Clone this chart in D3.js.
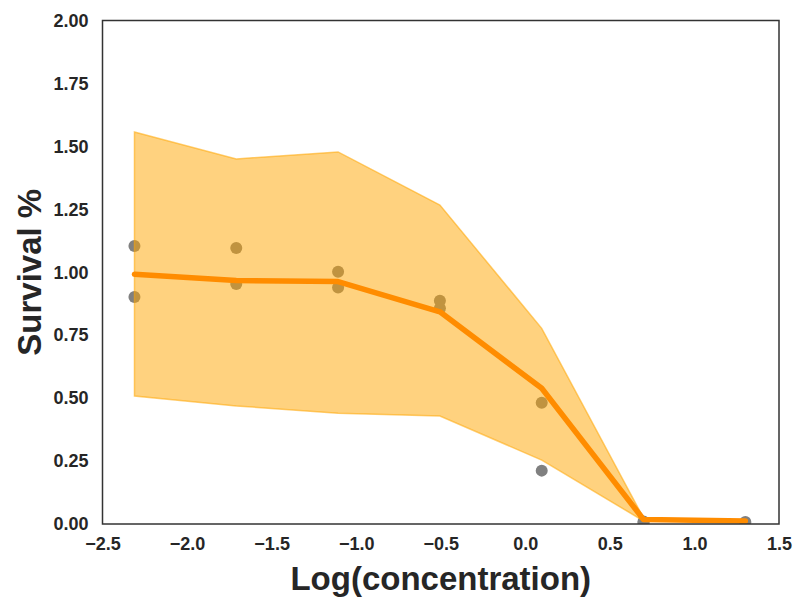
<!DOCTYPE html>
<html>
<head>
<meta charset="utf-8">
<script src="https://cdn.jsdelivr.net/npm/d3@7"></script>
<style>
  body { margin: 0; background: #fff; }
  svg { display: block; font-family: "Liberation Sans", Arial, sans-serif; }
</style>
</head>
<body>
<svg id="chart" width="806" height="609"></svg>
<script>
// log10 of concentration (20 / 4^k)
const logConc = [-2.311, -1.709, -1.107, -0.505, 0.097, 0.699, 1.301];
const meanSurvival = [0.992, 0.967, 0.963, 0.843, 0.539, 0.018, 0.012];
const bandUpper = [1.557, 1.450, 1.478, 1.267, 0.777, 0.024, 0.015];
const bandLower = [0.508, 0.469, 0.440, 0.429, 0.254, 0.012, 0.009];
// replicate observations
const repX = [-2.311, -2.311, -1.709, -1.709, -1.107, -1.107, -0.505, -0.505, 0.097, 0.097, 0.699, 0.699, 1.301];
const repY = [1.104, 0.902, 1.096, 0.953, 1.002, 0.939, 0.887, 0.857, 0.482, 0.212, 0.010, 0.004, 0.008];
const xTicks = [-2.5, -2.0, -1.5, -1.0, -0.5, 0.0, 0.5, 1.0, 1.5];
const yTicks = [0, 0.25, 0.5, 0.75, 1.0, 1.25, 1.5, 1.75, 2.0];

const margin = { top: 20.5, right: 27, bottom: 85, left: 102.5 };
const W = 806, H = 609;
const width = W - margin.left - margin.right;
const height = H - margin.top - margin.bottom;

const x = d3.scaleLinear().domain([-2.5, 1.5]).range([0, width]);
const y = d3.scaleLinear().domain([0, 2]).range([height, 0]);

const svg = d3.select("#chart");
const g = svg.append("g").attr("transform", `translate(${margin.left},${margin.top})`);

const defs = svg.append("defs");
defs.append("clipPath").attr("id", "plot-clip")
  .append("rect").attr("width", width).attr("height", height);

const plot = g.append("g").attr("clip-path", "url(#plot-clip)");

// points first so the band tints them
plot.selectAll("circle")
  .data(repX.map((v, i) => [v, repY[i]]))
  .join("circle")
  .attr("cx", d => x(d[0]))
  .attr("cy", d => y(d[1]))
  .attr("r", 6)
  .attr("fill", "#808080");

const series = logConc.map((v, i) => ({ x: v, m: meanSurvival[i], lo: bandLower[i], hi: bandUpper[i] }));

plot.append("path")
  .datum(series)
  .attr("d", d3.area().x(d => x(d.x)).y0(d => y(d.lo)).y1(d => y(d.hi)))
  .attr("fill", "orange")
  .attr("fill-opacity", 0.5)
  .attr("stroke", "orange")
  .attr("stroke-opacity", 0.55)
  .attr("stroke-width", 1.5);

plot.append("path")
  .datum(series)
  .attr("d", d3.line().x(d => x(d.x)).y(d => y(d.m)))
  .attr("fill", "none")
  .attr("stroke", "darkorange")
  .attr("stroke-width", 5.5)
  .attr("stroke-linejoin", "round")
  .attr("stroke-linecap", "round");

// axes, no tick marks
const fmtY = d3.format(".2f");
const fmtX = v => d3.format(".1f")(v).replace("-", "\u2212");

const xAxis = g.append("g").attr("transform", `translate(0,${height})`)
  .call(d3.axisBottom(x).tickValues(xTicks).tickSize(0).tickPadding(13).tickFormat(fmtX));
const yAxis = g.append("g")
  .call(d3.axisLeft(y).tickValues(yTicks).tickSize(0).tickPadding(14).tickFormat(fmtY));

[xAxis, yAxis].forEach(a => {
  a.select(".domain").remove();
  a.selectAll("text")
    .attr("font-family", "Liberation Sans, Arial, sans-serif")
    .attr("font-size", 18)
    .attr("font-weight", "bold")
    .attr("fill", "#262626");
});

g.append("rect")
  .attr("width", width)
  .attr("height", height)
  .attr("fill", "none")
  .attr("stroke", "#333333")
  .attr("stroke-width", 1.5);

g.append("text")
  .attr("x", width / 2)
  .attr("y", height + 66)
  .attr("text-anchor", "middle")
  .attr("font-size", 33)
  .attr("font-weight", "bold")
  .attr("fill", "#262626")
  .text("Log(concentration)");

g.append("text")
  .attr("transform", `translate(${-62},${height / 2}) rotate(-90)`)
  .attr("text-anchor", "middle")
  .attr("font-size", 33)
  .attr("font-weight", "bold")
  .attr("fill", "#262626")
  .text("Survival %");
</script>
</body>
</html>
